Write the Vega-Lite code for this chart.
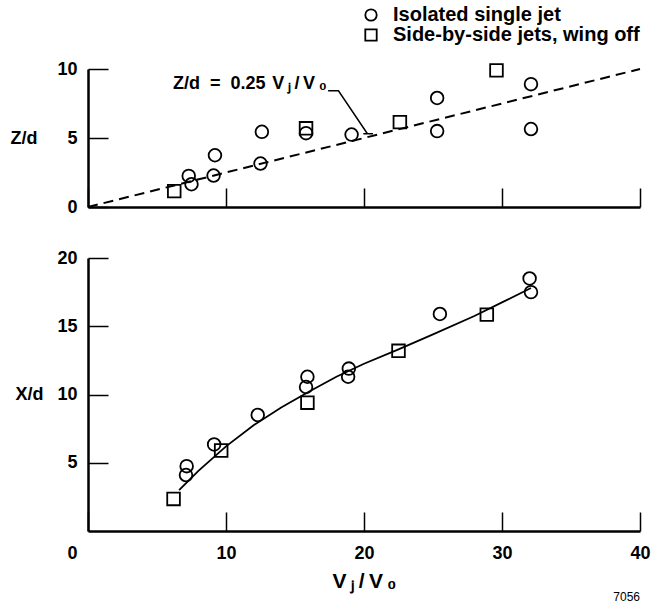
{
  "$schema": "https://vega.github.io/schema/vega-lite/v6.json",
  "autosize": {"type": "pad"},
  "padding": {"left": 10, "top": 5, "right": 0, "bottom": 0},
  "background": "white",
  "datasets": {
    "zd_points": [
      {"vr": 7.3, "zd": 2.25, "config": "Isolated single jet"},
      {"vr": 7.5, "zd": 1.65, "config": "Isolated single jet"},
      {"vr": 9.1, "zd": 2.28, "config": "Isolated single jet"},
      {"vr": 9.2, "zd": 3.75, "config": "Isolated single jet"},
      {"vr": 12.5, "zd": 3.15, "config": "Isolated single jet"},
      {"vr": 12.6, "zd": 5.45, "config": "Isolated single jet"},
      {"vr": 15.8, "zd": 5.35, "config": "Isolated single jet"},
      {"vr": 19.1, "zd": 5.25, "config": "Isolated single jet"},
      {"vr": 25.3, "zd": 7.9, "config": "Isolated single jet"},
      {"vr": 25.3, "zd": 5.5, "config": "Isolated single jet"},
      {"vr": 32.1, "zd": 8.9, "config": "Isolated single jet"},
      {"vr": 32.1, "zd": 5.65, "config": "Isolated single jet"},
      {"vr": 6.25, "zd": 1.15, "config": "Side-by-side jets, wing off"},
      {"vr": 15.8, "zd": 5.7, "config": "Side-by-side jets, wing off"},
      {"vr": 22.6, "zd": 6.15, "config": "Side-by-side jets, wing off"},
      {"vr": 29.6, "zd": 9.9, "config": "Side-by-side jets, wing off"}
    ],
    "xd_points": [
      {"vr": 32.0, "xd": 18.5, "config": "Isolated single jet"},
      {"vr": 32.1, "xd": 17.5, "config": "Isolated single jet"},
      {"vr": 25.5, "xd": 15.9, "config": "Isolated single jet"},
      {"vr": 18.9, "xd": 11.9, "config": "Isolated single jet"},
      {"vr": 18.85, "xd": 11.3, "config": "Isolated single jet"},
      {"vr": 15.9, "xd": 11.3, "config": "Isolated single jet"},
      {"vr": 15.8, "xd": 10.55, "config": "Isolated single jet"},
      {"vr": 12.3, "xd": 8.5, "config": "Isolated single jet"},
      {"vr": 9.14, "xd": 6.34, "config": "Isolated single jet"},
      {"vr": 7.15, "xd": 4.75, "config": "Isolated single jet"},
      {"vr": 7.1, "xd": 4.1, "config": "Isolated single jet"},
      {"vr": 28.9, "xd": 15.85, "config": "Side-by-side jets, wing off"},
      {"vr": 22.5, "xd": 13.2, "config": "Side-by-side jets, wing off"},
      {"vr": 15.9, "xd": 9.4, "config": "Side-by-side jets, wing off"},
      {"vr": 9.65, "xd": 5.9, "config": "Side-by-side jets, wing off"},
      {"vr": 6.2, "xd": 2.35, "config": "Side-by-side jets, wing off"}
    ],
    "zd_fit": [
      {"vr": 0, "zd": 0},
      {"vr": 40, "zd": 10}
    ],
    "xd_fit": [
      {"vr": 6.6, "xd": 3.0},
      {"vr": 8, "xd": 4.4},
      {"vr": 10, "xd": 6.2},
      {"vr": 12, "xd": 7.75},
      {"vr": 14, "xd": 9.05},
      {"vr": 16, "xd": 10.2},
      {"vr": 18, "xd": 11.3},
      {"vr": 20, "xd": 12.25},
      {"vr": 22.5, "xd": 13.3},
      {"vr": 25, "xd": 14.4},
      {"vr": 28, "xd": 15.75},
      {"vr": 30, "xd": 16.75},
      {"vr": 32.1, "xd": 17.8}
    ],
    "leader": [
      {"order": 1, "vr": 17.4, "zd": 8.42},
      {"order": 2, "vr": 18.15, "zd": 8.42},
      {"order": 3, "vr": 20.25, "zd": 5.3},
      {"order": 4, "vr": 19.95, "zd": 5.3},
      {"order": 5, "vr": 20.65, "zd": 5.3}
    ],
    "annotation": [
      {"vr": 6.16, "zd": 8.55, "label": "Z/d\u00a0\u00a0=\u00a0\u00a00.25"},
      {"vr": 13.35, "zd": 8.55, "label": "V\u2009ⱼ\u2009/\u2009V\u2009₀"}
    ],
    "figno": [
      {"vr": 40, "xd": -4.85, "label": "7056"}
    ]
  },
  "config": {
    "view": {"stroke": null},
    "font": "Liberation Sans",
    "axis": {
      "domainColor": "black",
      "domainWidth": 2.5,
      "tickColor": "black",
      "tickWidth": 1.5,
      "labelColor": "black",
      "labelFont": "Liberation Sans",
      "labelFontWeight": "bold",
      "labelFontSize": 18,
      "labelFlush": false,
      "labelOverlap": false,
      "titleFont": "Liberation Sans",
      "titleFontWeight": "bold",
      "titleColor": "black",
      "grid": false
    },
    "legend": {
      "orient": "none",
      "legendX": 273,
      "legendY": -64,
      "padding": 0,
      "rowPadding": 0,
      "labelFont": "Liberation Sans",
      "labelFontWeight": "bold",
      "labelFontSize": 20,
      "labelColor": "black",
      "labelOffset": 12,
      "labelLimit": 400,
      "symbolSize": 130,
      "symbolStrokeWidth": 1.8,
      "symbolStrokeColor": "black",
      "symbolFillColor": "transparent"
    }
  },
  "resolve": {"scale": {"shape": "shared"}, "legend": {"shape": "shared"}},
  "spacing": 51,
  "bounds": "flush",
  "vconcat": [
    {
      "width": 552,
      "height": 138,
      "layer": [
        {
          "data": {"name": "zd_fit"},
          "mark": {"type": "line", "color": "black", "strokeWidth": 2, "strokeDash": [10, 6]},
          "encoding": {
            "x": {
              "field": "vr", "type": "quantitative",
              "scale": {"domain": [0, 40], "nice": false, "zero": false},
              "axis": {"values": [0, 10, 20, 30, 40], "tickSize": -19, "labels": false, "title": null}
            },
            "y": {
              "field": "zd", "type": "quantitative",
              "scale": {"domain": [0, 10], "nice": false, "zero": false},
              "axis": {
                "values": [0, 5, 10], "tickSize": -20, "labelPadding": 31,
                "title": "Z/d", "titleAngle": 0, "titleX": -78, "titleY": 69,
                "titleAlign": "left", "titleBaseline": "middle", "titleFontSize": 18
              }
            }
          }
        },
        {
          "data": {"name": "leader"},
          "mark": {"type": "line", "color": "black", "strokeWidth": 1.5},
          "encoding": {
            "x": {"field": "vr", "type": "quantitative"},
            "y": {"field": "zd", "type": "quantitative"},
            "order": {"field": "order", "type": "quantitative"}
          }
        },
        {
          "data": {"name": "annotation"},
          "mark": {"type": "text", "align": "left", "baseline": "alphabetic", "fontSize": 18, "fontWeight": "bold", "color": "black", "font": "Liberation Sans"},
          "encoding": {
            "x": {"field": "vr", "type": "quantitative"},
            "y": {"field": "zd", "type": "quantitative"},
            "text": {"field": "label"}
          }
        },
        {
          "data": {"name": "zd_points"},
          "mark": {"type": "point", "filled": false, "stroke": "black", "strokeWidth": 1.8, "size": 160, "opacity": 1},
          "encoding": {
            "x": {"field": "vr", "type": "quantitative"},
            "y": {"field": "zd", "type": "quantitative"},
            "shape": {
              "field": "config", "type": "nominal",
              "scale": {"domain": ["Isolated single jet", "Side-by-side jets, wing off"], "range": ["circle", "square"]},
              "legend": {"title": null}
            }
          }
        }
      ]
    },
    {
      "width": 552,
      "height": 273,
      "layer": [
        {
          "data": {"name": "xd_fit"},
          "mark": {"type": "line", "color": "black", "strokeWidth": 1.8},
          "encoding": {
            "x": {
              "field": "vr", "type": "quantitative",
              "scale": {"domain": [0, 40], "nice": false, "zero": false},
              "axis": {
                "values": [0, 10, 20, 30, 40], "tickSize": -19, "labelPadding": 32,
                "labelOffset": {"condition": {"test": "datum.value === 0", "value": -16}, "value": 0},
                "title": "V\u2009ⱼ\u2009/\u2009V\u2009₀", "titleFontSize": 21, "titlePadding": 8
              }
            },
            "y": {
              "field": "xd", "type": "quantitative",
              "scale": {"domain": [0, 20], "nice": false, "zero": false},
              "axis": {
                "values": [5, 10, 15, 20], "tickSize": -20, "labelPadding": 31,
                "title": "X/d", "titleAngle": 0, "titleX": -73, "titleY": 136.5,
                "titleAlign": "left", "titleBaseline": "middle", "titleFontSize": 18
              }
            }
          }
        },
        {
          "data": {"name": "figno"},
          "mark": {"type": "text", "align": "right", "baseline": "middle", "fontSize": 12, "color": "black", "font": "Liberation Sans"},
          "encoding": {
            "x": {"field": "vr", "type": "quantitative"},
            "y": {"field": "xd", "type": "quantitative"},
            "text": {"field": "label"}
          }
        },
        {
          "data": {"name": "xd_points"},
          "mark": {"type": "point", "filled": false, "stroke": "black", "strokeWidth": 1.8, "size": 160, "opacity": 1},
          "encoding": {
            "x": {"field": "vr", "type": "quantitative"},
            "y": {"field": "xd", "type": "quantitative"},
            "shape": {
              "field": "config", "type": "nominal",
              "scale": {"domain": ["Isolated single jet", "Side-by-side jets, wing off"], "range": ["circle", "square"]},
              "legend": {"title": null}
            }
          }
        }
      ]
    }
  ]
}
